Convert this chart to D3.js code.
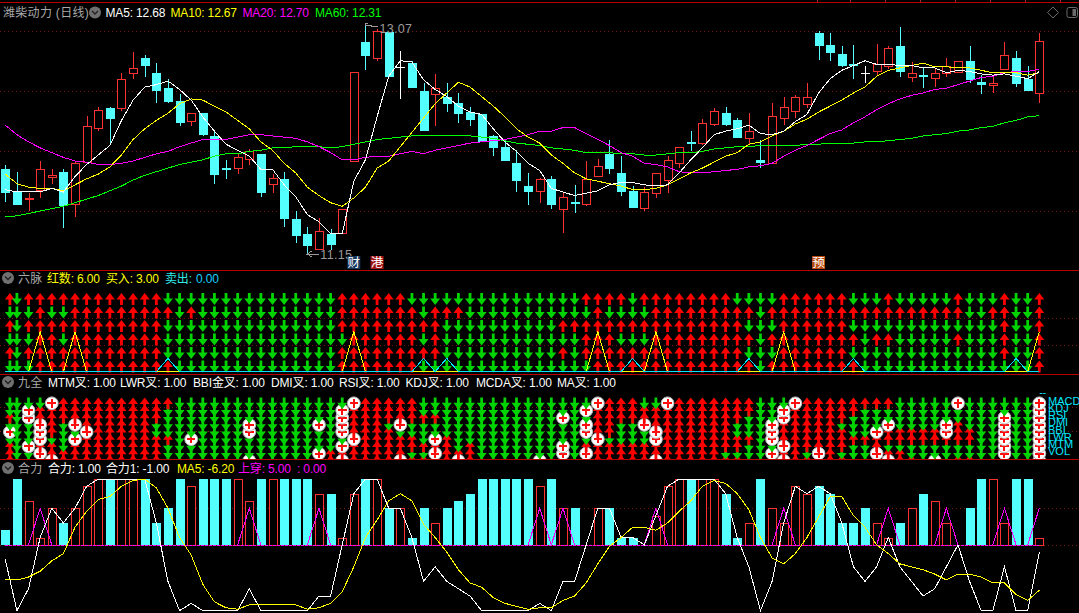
<!DOCTYPE html>
<html><head><meta charset="utf-8">
<style>html,body{margin:0;padding:0;background:#000;overflow:hidden}svg{display:block}
text{font-family:"Liberation Sans","Noto Sans CJK SC",sans-serif;font-size:12px}</style>
<script src="https://cdn.jsdelivr.net/npm/d3@7"></script></head><body>
<svg id="c" width="1079" height="613"></svg>
<script>
const opens=[11.86,11.67,11.61,11.68,11.79,11.84,11.57,11.92,12.21,12.37,12.38,12.67,12.79,12.67,12.54,12.43,12.26,12.33,12.14,11.87,11.87,11.94,11.99,11.74,11.78,11.44,11.32,11.19,11.32,11.33,11.93,
12.93,12.79,13.01,12.72,12.75,12.52,12.49,12.47,12.42,12.34,12.32,12.14,12.05,11.91,11.72,11.68,11.78,11.53,11.59,11.57,11.81,11.99,11.83,11.68,11.54,11.66,11.77,11.92,12.09,12.08,12.24,
12.33,12.27,12.12,11.94,11.92,12.29,12.35,12.41,13.00,12.90,12.83,12.74,12.67,12.68,12.73,12.89,12.64,12.65,12.63,12.67,12.68,12.77,12.59,12.56,12.70,12.79,12.62,12.50];
const closes=[11.67,11.57,11.62,11.86,11.81,11.56,11.91,12.22,12.36,12.29,12.62,12.71,12.73,12.53,12.43,12.25,12.33,12.15,11.82,11.86,11.96,12.01,11.67,11.79,11.45,11.31,11.23,11.34,11.24,11.53,12.68,
12.82,13.02,12.64,12.72,12.55,12.19,12.54,12.42,12.34,12.28,12.09,12.05,11.94,11.77,11.68,11.78,11.57,11.63,11.58,11.78,11.89,11.87,11.68,11.55,11.67,11.83,11.94,12.05,12.08,12.25,12.35,
12.24,12.13,12.18,11.92,12.31,12.38,12.47,12.47,12.90,12.84,12.74,12.73,12.67,12.74,12.88,12.68,12.67,12.64,12.67,12.73,12.77,12.62,12.57,12.58,12.82,12.58,12.53,12.94];
const highs=[11.90,11.84,11.66,11.93,11.86,11.86,11.92,12.31,12.38,12.38,12.67,12.84,12.82,12.75,12.62,12.49,12.33,12.33,12.17,11.94,11.99,12.03,11.99,11.82,11.84,11.51,11.38,11.45,11.36,11.53,12.68,
13.07,13.04,13.01,12.85,12.77,12.58,12.66,12.58,12.50,12.38,12.32,12.15,12.11,12.02,11.83,11.79,11.80,11.66,11.73,11.93,11.95,12.11,11.97,11.72,11.71,11.83,11.97,12.05,12.18,12.28,12.37,
12.38,12.29,12.33,12.11,12.42,12.47,12.48,12.58,13.02,13.00,12.89,12.90,12.73,12.91,12.89,13.05,12.76,12.71,12.70,12.79,12.77,12.89,12.65,12.63,12.93,12.85,12.73,13.00];
const lows=[11.59,11.56,11.51,11.62,11.74,11.37,11.46,11.91,12.18,12.06,12.35,12.62,12.63,12.42,12.42,12.22,12.22,12.14,11.74,11.78,11.82,11.90,11.63,11.66,11.38,11.24,11.15,11.18,11.18,11.32,11.93,
12.69,12.77,12.63,12.45,12.54,12.19,12.22,12.34,12.25,12.22,12.09,11.97,11.94,11.67,11.56,11.58,11.53,11.33,11.49,11.55,11.81,11.82,11.64,11.54,11.51,11.62,11.66,11.87,12.01,12.06,12.22,
12.22,12.12,12.07,11.87,11.92,12.23,12.29,12.37,12.78,12.77,12.72,12.62,12.58,12.65,12.70,12.63,12.59,12.54,12.55,12.63,12.67,12.58,12.49,12.50,12.69,12.55,12.53,12.42];
const ma5=[11.69,11.67,11.67,11.67,11.70,11.67,11.80,11.90,11.98,12.06,12.27,12.44,12.55,12.57,12.60,12.53,12.44,12.30,12.18,12.07,12.02,11.97,11.86,11.86,11.73,11.63,11.48,11.42,11.32,11.32,11.76,
11.94,12.30,12.64,12.77,12.76,12.61,12.53,12.47,12.39,12.34,12.32,12.20,12.09,12.01,11.91,11.85,11.70,11.67,11.64,11.66,11.68,11.73,11.75,11.75,11.73,11.72,11.73,11.83,11.94,12.04,12.15,
12.18,12.20,12.23,12.16,12.15,12.18,12.26,12.32,12.50,12.62,12.69,12.73,12.77,12.74,12.74,12.73,12.73,12.71,12.71,12.67,12.69,12.68,12.66,12.65,12.66,12.64,12.62,12.68];
const ma10=[11.82,11.74,11.71,11.70,11.70,11.68,11.73,11.78,11.82,11.88,11.98,12.11,12.20,12.27,12.33,12.41,12.45,12.44,12.39,12.34,12.27,12.20,12.09,12.02,11.91,11.83,11.71,11.64,11.58,11.55,11.62,
11.71,11.87,11.93,12.05,12.17,12.29,12.41,12.50,12.59,12.55,12.47,12.39,12.30,12.20,12.13,12.08,11.98,11.91,11.83,11.78,11.76,11.74,11.72,11.69,11.69,11.70,11.73,11.78,11.83,11.87,11.92,
11.97,12.00,12.07,12.09,12.14,12.18,12.24,12.28,12.34,12.39,12.44,12.50,12.55,12.64,12.69,12.71,12.73,12.75,12.72,12.72,12.71,12.71,12.69,12.67,12.67,12.67,12.65,12.67];
const ma20=[12.23,12.15,12.09,12.04,12.00,11.96,11.93,11.92,11.90,11.90,11.91,11.93,11.96,11.99,12.01,12.05,12.08,12.11,12.11,12.11,12.13,12.15,12.15,12.14,12.13,12.12,12.09,12.05,12.00,11.94,11.94,
11.96,11.97,11.97,11.99,12.01,11.99,12.02,12.04,12.06,12.08,12.09,12.10,12.11,12.13,12.15,12.18,12.18,12.21,12.21,12.16,12.11,12.06,12.00,11.97,11.91,11.90,11.88,11.84,11.83,11.83,11.84,
11.85,11.86,11.88,11.89,11.91,11.97,12.02,12.06,12.11,12.16,12.19,12.25,12.30,12.36,12.41,12.45,12.48,12.50,12.53,12.54,12.57,12.60,12.63,12.64,12.67,12.68,12.68,12.70];
const ma60=[11.46,11.47,11.49,11.51,11.53,11.55,11.58,11.61,11.64,11.68,11.72,11.77,11.81,11.84,11.87,11.90,11.92,11.94,11.97,11.99,11.99,12.01,12.02,12.04,12.04,12.05,12.05,12.05,12.04,12.05,12.07,
12.09,12.11,12.12,12.13,12.14,12.14,12.14,12.14,12.14,12.14,12.13,12.12,12.10,12.08,12.07,12.06,12.04,12.03,12.02,12.00,12.00,12.00,11.99,11.99,11.98,11.98,11.99,12.00,12.00,12.01,12.03,
12.04,12.05,12.05,12.06,12.06,12.06,12.06,12.07,12.07,12.08,12.08,12.08,12.09,12.09,12.10,12.11,12.12,12.14,12.15,12.16,12.18,12.19,12.21,12.22,12.25,12.27,12.30,12.31];
const priceGrid=[13.017,12.514,12.011,11.508];
const pulseRows=[
"10 111111111111 000000000000000 11 1111 000000000000000 1111 0 1111111 1 0000 111111 000 1 00000 1 000 1 00 1",
"000 1 00 111111111 0 1 000000000000 11 11111 0 111 00000000000 1 0000 111111 111 0 11111111111111111 00 11 00 1",
"1 0 111111111111 000000000000000 11 1111111 0000000000 11111111111111 11 000 111111 0000000000000 1 00 1",
"000 11 0 11111111 000000000000000 0 1 11111 0 1 000000000000 111 000 111111 111 0 11111111 0 11 00000 1 000 1 00 1",
"1 0 111111111111 000000000000000 11 1111111 0000000000 1 0 111111111111 11 000 111111 0000000000000 1 00 1",
"000 111111111111 00000000000000 11 11111 000000000000000 11111111111 111 0 11111111 000000000000000 1"
];
const buyDays=[3,6,30,51,56,67,89], sellDays=[14,36,38,54,64,73,87];
const nineCols=["DDUDPDUUU","DDDDDDDDD","DPPDDDPDD","DUUPPPUPU","PUUUUDUUP","UUUDDDDUU","UUUPDPUUU","UUUUPUUUU","UUUUUUUUU","UUUUUUUUU","UUUUUUUUU","UUUUUUUUU","UUUUUUUUU","UUUDDUUUU","UDDDDUDDD","DDDDDDDDD","DDDDDPDDD","DDDDDDDDD","DDDDDDDDD","DDDDDDDDD","DDDDDDDDD","DDDPPDDDP","DDDDDDDDD","DDDDDDDDD","DDDDDDDDD","DDDDDDDDD","DDDDDDDDD","DDDPDDDPD","DDDDDDDUU","DPPPPDPUP","PUUUUPUUU",
"UUUUUUUUU","UUUUUUUUU","UUUDUUUUU","UUUPDUUUP","UUUDDUUDU","DDUDDDUDU","DDUDDPUPU","DDDDDUUUU","DDDDDDDUP","DDDDDDUUU","DDDDDDDDD","DDDDDDDDD","DDDDDDDDD","DDDDDDDDD","DDDDDDDDD","DDDDDDDDP","DDDDDDDDD","DDPDDDPPD","DDDDDDDDD","DPDPPDUPU","PUUUUPUUU","UUUUUDUUU","UUUDDDUUU","UUUDDDUUU","DUUPDDUUU","DUUUPPUUP","PUUUUUUUU","UUUUUUUUU","UUUUUUUUU","UUUUUUUUU","UUUUUUUUU",
"UUUUUUUDU","UUUDDUUDU","UUDDDUDDD","DDDDDDDDD","DDDPPPDPU","DPPUUUPUP","PUUUUUUUU","UUUUUUUDU","UUUUUUUPU","UUUUUUUUU","UUUDUUUDU","UUDDDUDDD","UDDDDUDDD","UDDDPUUPU","UDDPUUDUP","DDDDUUDUU","DDDDUUDDU","DDDDUUDDD","DDDDUUDDP","DDDPPUDDD","PDDUUUDDU","DDDDUUDDU","DDDDDDDDD","DDDDDDDDD","DDPPPPPPD","DDDDDDDDD","DDDDDDDDD","PPPPPPPPP"];
const nineLabels=["MACD","KDJ","RSI","DMI","BBI","LWR","MTM","VOL"];
const forceBars=[2,9,6,1,5,3,5,8,9,9,9,9,9,3,5,9,8,9,9,9,9,6,9,9,9,9,9,7,7,1,7,
9,9,5,5,1,5,3,5,6,7,9,9,9,9,9,8,9,5,5,0,5,5,1,1,0,4,8,9,9,9,9,
7,1,3,9,5,3,8,7,8,7,3,3,5,3,1,3,5,7,6,3,0,5,9,9,3,9,9,1];
const forceUp=[0,0,1,1,1,0,1,1,1,0,1,1,0,0,0,0,1,0,0,0,1,1,0,1,0,0,0,1,0,1,1,
0,1,0,1,0,0,1,0,0,0,0,0,0,0,0,1,0,1,0,0,1,0,0,0,0,1,1,1,0,1,1,
0,0,1,0,1,1,1,1,0,0,0,0,0,1,1,0,1,0,1,1,0,0,0,1,1,0,0,1];
const forceLine=[-2,-9,-6,1,5,3,5,8,9,9,9,9,9,3,-5,-9,-8,-9,-9,-9,-9,-6,-9,-9,-9,-9,-9,-7,-7,0,7,
9,9,5,5,1,-5,-3,-5,-6,-7,-9,-9,-9,-9,-9,-8,-9,-5,-5,0,5,5,1,1,0,4,8,9,9,9,9,
7,1,-3,-9,-5,3,8,7,8,7,3,-3,-5,-3,1,-3,-5,-7,-6,-3,0,-5,-9,-9,-3,-9,-9,-1];
const forceMa5=[-4.8,-4.8,-4.4,-3.6,-2.2,-1.2,2.4,4.6,6.2,6.6,8,8.8,9,7.8,5,1,-1.4,-5.4,-7.8,-8.6,-8.8,-8.2,-8.2,-8.2,-8.2,-8.2,-8.8,-8.6,-8,-6.4,-3,
1,3.4,6,7,6,2.8,1,-1,-3.4,-5.2,-5.8,-7.2,-8,-8.4,-8.8,-8.6,-8.6,-7.6,-7,-5.2,-2.6,-0.2,1,2.4,2.4,2,3,4.6,6,8,8.8,
8.4,7,4.8,1,-1.8,-2.6,-1.2,1,3.8,6.6,6.6,4,2.4,0,-1.2,-2.6,-3,-3.4,-4,-4.8,-4,-4,-4.4,-5.2,-5.2,-6.8,-7.6,-6.2];
const crossDays=[3,21,27,46,48,56,67,76,81,86,89];
const topTicks=[817,850,885,920,955,990,1025,1060];
const headers=[
 {t:"潍柴动力 (日线)",x:3,y:16.5,c:"#a8a8a8",f:12},
 {t:"MA5: 12.68",x:105.5,y:16.5,c:"#ffffff"},{t:"MA10: 12.67",x:170.5,y:16.5,c:"#ffff00"},
 {t:"MA20: 12.70",x:242.5,y:16.5,c:"#ff00ff"},{t:"MA60: 12.31",x:315,y:16.5,c:"#00ff00"},
 {t:"六脉",x:18,y:282.5,c:"#a8a8a8",f:12},{t:"红数: 6.00",x:47,y:282.5,c:"#ffff00"},
 {t:"买入: 3.00",x:106,y:282.5,c:"#ffff00"},{t:"卖出: ",x:165,y:282.5,c:"#30e8e8"},{t:"0.00",x:196,y:282.5,c:"#10d0ff"},
 {t:"九全",x:18,y:386.5,c:"#a8a8a8",f:12},{t:"MTM叉: 1.00",x:48,y:386.5,c:"#fff"},{t:"LWR叉: 1.00",x:120,y:386.5,c:"#fff"},
 {t:"BBI金叉: 1.00",x:193,y:386.5,c:"#fff"},{t:"DMI叉: 1.00",x:271,y:386.5,c:"#fff"},{t:"RSI叉: 1.00",x:339,y:386.5,c:"#fff"},
 {t:"KDJ叉: 1.00",x:405.5,y:386.5,c:"#fff"},{t:"MCDA叉: 1.00",x:476,y:386.5,c:"#fff"},{t:"MA叉: 1.00",x:557,y:386.5,c:"#fff"},
 {t:"合力",x:18,y:472.5,c:"#a8a8a8",f:12},{t:"合力: 1.00",x:48,y:472.5,c:"#fff"},{t:"合力1: -1.00",x:106,y:472.5,c:"#fff"},
 {t:"MA5: -6.20",x:177,y:472.5,c:"#ffff00"},{t:"上穿: 5.00",x:238,y:472.5,c:"#ff00ff"},{t:": 0.00",x:297,y:472.5,c:"#ff00ff"}];
const marks=[{t:"财",i:30,c:"#17375e"},{t:"港",i:32,c:"#a01414"},{t:"预",i:70,c:"#b84a10"}];

const RED="#ff3232",CY="#54ffff",GR="#00d400",N=90;
const svg=d3.select("#c");
const x=d3.scaleLinear().domain([0,N-1]).range([5.3,1039.3]);
const yP=d3.scaleLinear().domain([11.15,13.07]).range([254,25]);
const yPulse=d3.scaleLinear().domain([0,3]).range([371.7,331.7]);
const rowPulse=d3.scaleLinear().domain([0,5]).range([299,366.5]);
const rowNine=d3.scaleLinear().domain([0,8]).range([403.3,460.7]);
const yF=d3.scaleLinear().domain([-9,9]).range([610.67,479]);
const idx=d3.range(N);
const crisp="crispEdges";
function hline(g,y,x0,x1,c,dash){g.append("line").attr("x1",x0).attr("x2",x1).attr("y1",y).attr("y2",y).attr("stroke",c).attr("stroke-dasharray",dash||null).attr("shape-rendering",crisp);}
const gridC="#7a1414",gridD="1 3";
const grid=svg.append("g");
priceGrid.forEach(p=>hline(grid,Math.round(yP(p))+.5,0,1079,gridC,gridD));
[2,4].forEach(v=>hline(grid,Math.round(yPulse(v))+.5,0,1079,gridC,gridD));
[0.55,3.85].forEach(v=>hline(grid,Math.round(rowNine(v))+.5,0,1079,gridC,gridD));
[5,0].forEach(v=>hline(grid,Math.round(yF(v))+.5,0,1079,gridC,gridD));
[2.5,270.5,374.5,459.5].forEach(y=>hline(svg.append("g"),y,0,1079,"#b80000"));
topTicks.forEach(t=>svg.append("line").attr("x1",t+.5).attr("x2",t+.5).attr("y1",0).attr("y2",2).attr("stroke","#a03030"));

const cg=svg.append("g");
const isFlat=i=>opens[i]===closes[i], isUp=i=>closes[i]>opens[i];
const colorOf=i=>isFlat(i)?"#fff":isUp(i)?RED:CY;
cg.selectAll("line.w").data(idx).join("line").attr("class","w")
 .attr("x1",i=>Math.round(x(i))+.5).attr("x2",i=>Math.round(x(i))+.5)
 .attr("y1",i=>yP(highs[i])).attr("y2",i=>yP(lows[i]))
 .attr("stroke",colorOf).attr("shape-rendering",crisp);
cg.selectAll("rect.b").data(idx.filter(i=>!isFlat(i))).join("rect").attr("class","b")
 .attr("x",i=>isUp(i)?Math.round(x(i))-3.5:Math.round(x(i))-4)
 .attr("width",i=>isUp(i)?8:9)
 .attr("y",i=>isUp(i)?Math.round(yP(closes[i]))+.5:Math.round(yP(opens[i])))
 .attr("height",i=>{const h=Math.abs(yP(opens[i])-yP(closes[i]));return Math.max(isUp(i)?Math.round(h):Math.round(h)+1,1);})
 .attr("fill",i=>isUp(i)?"#000":CY).attr("stroke",i=>isUp(i)?RED:"none").attr("shape-rendering",crisp);
cg.selectAll("line.d").data(idx.filter(isFlat)).join("line").attr("class","d")
 .attr("x1",i=>Math.round(x(i))-4).attr("x2",i=>Math.round(x(i))+5)
 .attr("y1",i=>Math.round(yP(opens[i]))+.5).attr("y2",i=>Math.round(yP(opens[i]))+.5)
 .attr("stroke","#fff").attr("shape-rendering",crisp);
const lineP=d3.line().x((d,i)=>x(i)).y(d=>yP(d));
[[ma60,"#00ff00"],[ma20,"#ff00ff"],[ma10,"#ffff00"],[ma5,"#ffffff"]].forEach(([s,c])=>
 svg.append("path").attr("d",lineP(s)).attr("fill","none").attr("stroke",c).attr("stroke-width",1).attr("shape-rendering",crisp));
const ann=svg.append("g").attr("fill","#9a9a9a");
ann.append("text").text("11.15").attr("x",x(26)+13).attr("y",yP(11.15)+4.5).style("font-size","12.5px").style("letter-spacing","0.3px");
svg.append("path").attr("d",d3.line()([[x(26)+12,yP(11.15)],[x(26),yP(11.15)],[x(26)+4,yP(11.15)-3],[x(26),yP(11.15)],[x(26)+4,yP(11.15)+3]])).attr("fill","none").attr("stroke","#9a9a9a").attr("shape-rendering",crisp);
ann.append("text").text("13.07").attr("x",x(31)+14).attr("y",yP(13.07)+7.5).style("font-size","12.5px").style("letter-spacing","0.3px");
svg.append("path").attr("d",d3.line()([[x(31)+12,yP(13.07)+2],[x(31),yP(13.07)],[x(31),yP(13.07)-2],[x(31)+2.5,yP(13.07)-2]])).attr("fill","none").attr("stroke","#9a9a9a").attr("shape-rendering",crisp);
const mg=svg.append("g");
marks.forEach(m=>{mg.append("rect").attr("x",x(m.i)-6.5).attr("y",256).attr("width",13).attr("height",13).attr("fill",m.c);
 mg.append("text").text(m.t).attr("x",x(m.i)).attr("y",267).attr("text-anchor","middle").attr("fill","#fff").style("font-size","12.5px").style("font-family","'Noto Sans CJK SC'");});
svg.append("path").attr("d",d3.line()([[1053,7],[1058.5,12.5],[1053,18],[1047.5,12.5]])+"Z").attr("fill","none").attr("stroke","#6a6a6a");
svg.append("rect").attr("x",1067).attr("y",7.5).attr("width",10.5).attr("height",10).attr("rx",2).attr("fill","none").attr("stroke","#6a6a6a");
svg.append("rect").attr("x",1072.5).attr("y",9).attr("width",3.5).attr("height",7).attr("fill","#6a6a6a");

function arrow(cx,cy,up){const d=up?1:-1,hw=5,top=cy-5.9*d,mid=cy+0.6*d,bot=cy+5.9*d,sw=1.4;
 return d3.line()([[cx,top],[cx+hw,mid],[cx+sw,mid],[cx+sw,bot],[cx-sw,bot],[cx-sw,mid],[cx-hw,mid]])+"Z";}
const cx=i=>Math.max(x(i),9.9);
const pulse=svg.append("g");
const pulseClean=pulseRows.map(r=>r.replace(/ /g,""));
d3.range(6).forEach(r=>idx.forEach(i=>{const up=pulseClean[r][i]==="1";
 pulse.append("path").attr("d",arrow(cx(i),rowPulse(r),up)).attr("fill",up?"#ff0000":GR);}));
const lineB=d3.line().x((d,i)=>x(i)).y(d=>yPulse(d));
const buy=idx.map(i=>buyDays.includes(i)?3:0), sell=idx.map(i=>sellDays.includes(i)?1:0);
svg.append("path").attr("d",lineB(buy)).attr("fill","none").attr("stroke","#ffff00").attr("stroke-width",1).attr("shape-rendering",crisp);
svg.append("path").attr("d",lineB(sell)).attr("fill","none").attr("stroke","#00e0ff").attr("stroke-width",1).attr("shape-rendering",crisp);

svg.append("clipPath").attr("id","nc").append("rect").attr("x",0).attr("y",392).attr("width",1079).attr("height",67);
const nine=svg.append("g").attr("clip-path","url(#nc)");
for(let r=8;r>=0;r--) idx.forEach(i=>{const s=nineCols[i][r];const px=cx(i),py=rowNine(r);
 if(s==="P"){const g=nine.append("g");
  g.append("circle").attr("cx",px).attr("cy",py).attr("r",6.4).attr("fill","#ffffff").attr("stroke","#b8b8b8").attr("stroke-width",1);
  g.append("rect").attr("x",px-4.3).attr("y",py-1).attr("width",8.6).attr("height",2).attr("fill","#ff1010").attr("shape-rendering",crisp);
  g.append("rect").attr("x",px-1).attr("y",py-4.3).attr("width",2).attr("height",8.6).attr("fill","#ff1010").attr("shape-rendering",crisp);
 } else {const up=s==="U";
  nine.append("path").attr("d",arrow(px,py,up)).attr("fill",up?"#ff0000":GR);
  if(up&&r===8) nine.append("rect").attr("x",Math.round(px)).attr("y",py-6).attr("width",1).attr("height",1).attr("fill","#fff");
 }});
const lab=svg.append("g").attr("fill","#00e8ff");
nineLabels.forEach((l,k)=>lab.append("text").text(l).attr("x",1048).attr("y",rowNine(0)+k*7.2+1.5).style("font-size","11px"));
lab.append("text").text("--").attr("x",1039.5).attr("y",396).style("font-size","10px");

const fg=svg.append("g"),y0=yF(0);
fg.selectAll("rect").data(idx.filter(i=>forceBars[i]>0)).join("rect")
 .attr("x",i=>forceUp[i]?Math.round(x(i))-3.5:Math.round(x(i))-4)
 .attr("width",i=>forceUp[i]?8:9)
 .attr("y",i=>Math.round(yF(forceBars[i]))+(forceUp[i]?.5:0))
 .attr("height",i=>Math.round(y0)-Math.round(yF(forceBars[i])))
 .attr("fill",i=>forceUp[i]?"#000":CY).attr("stroke",i=>forceUp[i]?RED:"none").attr("shape-rendering",crisp);
hline(svg.append("g"),Math.round(y0)+.5,x(0),x(N-1),"#ff00ff","3 1");
const lineF=d3.line().x(d=>x(d[0])).y(d=>yF(d[1]));
crossDays.forEach(p=>{const pts=[[p-1,0],[p,5]];if(p<N-1)pts.push([p+1,0]);
 svg.append("path").attr("d",lineF(pts)).attr("fill","none").attr("stroke","#ff00ff").attr("stroke-width",1).attr("shape-rendering",crisp);});
svg.append("path").attr("d",lineF(forceLine.map((v,i)=>[i,v]))).attr("fill","none").attr("stroke","#ffffff").attr("stroke-width",1).attr("shape-rendering",crisp);
svg.append("path").attr("d",lineF(forceMa5.map((v,i)=>[i,v]))).attr("fill","none").attr("stroke","#ffff00").attr("stroke-width",1).attr("shape-rendering",crisp);

svg.append("g").selectAll("text").data(headers).join("text").text(d=>d.t).attr("x",d=>d.x).attr("y",d=>d.y)
 .attr("fill",d=>d.c).style("font-size",d=>(d.f||12)+"px").style("letter-spacing",d=>d.f?"0.3px":"-0.15px");
[[95,12.5],[8,278],[8,382],[8,468]].forEach(([a,b])=>{svg.append("circle").attr("cx",a).attr("cy",b).attr("r",6).attr("fill","#707070");
 svg.append("path").attr("d",d3.line()([[a-3,b-1.5],[a,b+1.5],[a+3,b-1.5]])).attr("fill","none").attr("stroke","#222").attr("stroke-width",1.4);});
</script></body></html>
